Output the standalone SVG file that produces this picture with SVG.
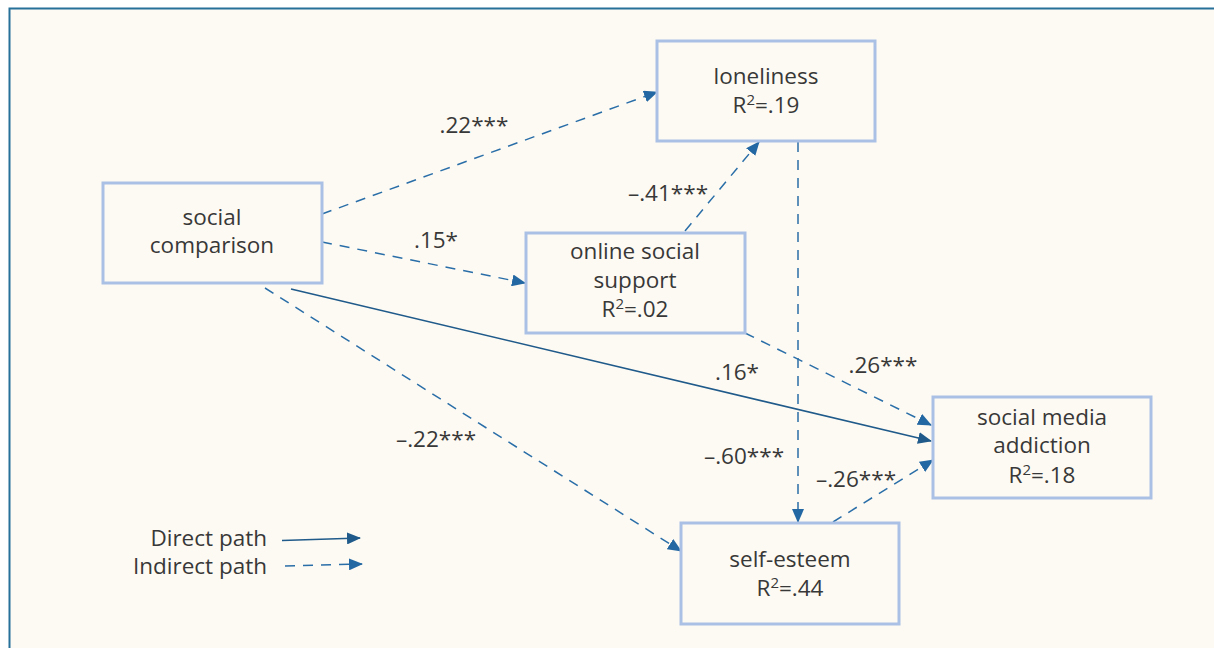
<svg xmlns="http://www.w3.org/2000/svg" width="1214" height="648" viewBox="0 0 1214 648">
<style>
.node rect{fill:#fdfaf3;stroke:#aac0e5;stroke-width:3}
text{font-family:"Open Sans","Noto Sans",sans-serif;font-size:22.5px;font-weight:400;fill:#383838;text-anchor:middle}
.lbl{font-size:22.5px}
.leg{text-anchor:end;font-size:22.5px}
.sup{font-size:15px}
.dash{stroke:#2a6ea8;stroke-width:1.5;fill:none;stroke-dasharray:10 8}
.solid{stroke:#1f5a8a;stroke-width:1.6;fill:none}
</style>
<defs>
<marker id="ah" markerWidth="14" markerHeight="12" refX="13" refY="6" orient="auto" markerUnits="userSpaceOnUse"><path d="M0,0 L14,6 L0,12 z" fill="#2468a3"/></marker>
<marker id="ahs" markerWidth="14" markerHeight="12" refX="13" refY="6" orient="auto" markerUnits="userSpaceOnUse"><path d="M0,0 L14,6 L0,12 z" fill="#1f5a8a"/></marker>
</defs>
<rect x="0" y="0" width="1214" height="648" fill="#ffffff"/>
<rect x="9.5" y="8.5" width="1220" height="660" fill="#fdfaf3" stroke="#26719a" stroke-width="2"/>

<g id="connectors">
<line class="dash" x1="322" y1="214" x2="657" y2="92" marker-end="url(#ah)"/>
<line class="dash" x1="322" y1="242" x2="525" y2="283" marker-end="url(#ah)"/>
<line class="solid" x1="291" y1="289" x2="931" y2="441" marker-end="url(#ahs)"/>
<line class="dash" x1="265" y1="288" x2="681" y2="551" marker-end="url(#ah)"/>
<line class="dash" x1="685" y1="231" x2="759" y2="142" marker-end="url(#ah)"/>
<line class="dash" x1="798" y1="142" x2="798" y2="522" marker-end="url(#ah)"/>
<line class="dash" x1="745" y1="333" x2="931" y2="425" marker-end="url(#ah)"/>
<line class="dash" x1="833" y1="522" x2="933" y2="460" marker-end="url(#ah)"/>
<line class="solid" x1="282" y1="540.5" x2="360" y2="538" marker-end="url(#ahs)"/>
<line class="dash" x1="285" y1="566" x2="362" y2="564" marker-end="url(#ah)"/>
</g>

<g id="labels">
<text class="lbl" x="474" y="133">.22***</text>
<text class="lbl" x="436" y="248">.15*</text>
<text class="lbl" x="668" y="201">–.41***</text>
<text class="lbl" x="737" y="380">.16*</text>
<text class="lbl" x="883" y="373">.26***</text>
<text class="lbl" x="436" y="447">–.22***</text>
<text class="lbl" x="744" y="464">–.60***</text>
<text class="lbl" x="856" y="487">–.26***</text>
<text class="leg" x="267" y="546">Direct path</text>
<text class="leg" x="267" y="574">Indirect path</text>
</g>

<g id="loneliness" class="node">
<rect x="657" y="41" width="218" height="100"/>
<text x="766" y="84">loneliness</text>
<text x="766" y="113">R<tspan class="sup" dy="-8">2</tspan><tspan dy="8">=.19</tspan></text>
</g>
<g id="social-comparison" class="node">
<rect x="103" y="183" width="219" height="100"/>
<text x="212" y="225">social</text>
<text x="212" y="253">comparison</text>
</g>
<g id="online-social-support" class="node">
<rect x="526" y="233" width="219" height="100"/>
<text x="635" y="259">online social</text>
<text x="635" y="288">support</text>
<text x="635" y="317">R<tspan class="sup" dy="-8">2</tspan><tspan dy="8">=.02</tspan></text>
</g>
<g id="social-media-addiction" class="node">
<rect x="933" y="397" width="218" height="101"/>
<text x="1042" y="425">social media</text>
<text x="1042" y="453">addiction</text>
<text x="1042" y="483">R<tspan class="sup" dy="-8">2</tspan><tspan dy="8">=.18</tspan></text>
</g>
<g id="self-esteem" class="node">
<rect x="681" y="523" width="218" height="101"/>
<text x="790" y="567">self-esteem</text>
<text x="790" y="596">R<tspan class="sup" dy="-8">2</tspan><tspan dy="8">=.44</tspan></text>
</g>
</svg>
